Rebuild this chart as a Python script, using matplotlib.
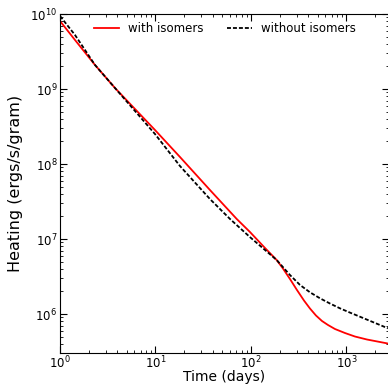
import numpy as np
import matplotlib
matplotlib.use('Agg')
import matplotlib.pyplot as plt

# values (time in days, heating in ergs/s/gram)
t_iso = [1, 1.436, 2.326, 3.766, 6.10, 9.88, 18.05, 37.2, 70.9, 97.6, 140.2,
         185.8, 216.3, 256.1, 303.1, 358.9, 414.8, 479.4, 554.0, 640.2,
         757.9, 964.5, 1227, 1640, 2720]
h_iso = [8.07e9, 4.50e9, 2.09e9, 1.031e9, 5.41e8, 2.84e8, 1.24e8, 4.50e7,
         1.85e7, 1.24e7, 7.59e6, 5.25e6, 4.04e6, 2.93e6, 2.09e6, 1.514e6,
         1.184e6, 9.55e5, 8.07e5, 7.14e5, 6.31e5, 5.58e5, 5.01e5, 4.57e5,
         4.04e5]

t_noiso = [1, 1.436, 2.326, 3.766, 6.10, 9.88, 18.05, 37.2, 60.3, 97.6, 140.2,
           185.8, 256.1, 326.1, 414.8, 527.9, 671.7, 855.0, 1088, 1385, 1941,
           2720]
h_noiso = [9.40e9, 5.25e9, 2.09e9, 1.031e9, 5.09e8, 2.51e8, 9.40e7, 3.41e7,
           1.85e7, 1.06e7, 7.14e6, 5.25e6, 3.31e6, 2.44e6, 1.947e6, 1.62e6,
           1.38e6, 1.19e6, 1.044e6, 9.20e5, 7.70e5, 6.45e5]

plt.rcParams['xtick.direction'] = 'in'
plt.rcParams['ytick.direction'] = 'in'
plt.rcParams['xtick.top'] = True
plt.rcParams['ytick.right'] = True
plt.rcParams['xtick.minor.visible'] = True
plt.rcParams['ytick.minor.visible'] = True

fig = plt.figure(figsize=(3.88, 3.86), dpi=100)
ax = fig.add_axes([60 / 388, 1 - 353 / 386, 329 / 388, 339 / 386])

ax.loglog(t_iso, h_iso, color='red', lw=1.3, label='with isomers')
ax.loglog(t_noiso, h_noiso, color='black', lw=1.3, ls=(0, (2.2, 1.1)),
          label='without isomers')

ax.set_xlim(1, 2790)
ax.set_ylim(3.02e5, 1e10)
ax.set_xlabel('Time (days)', fontsize=10)
ax.set_ylabel('Heating (ergs/s/gram)', fontsize=11.5)
ax.xaxis.set_label_coords(0.5, -0.049)
ax.yaxis.set_label_coords(-0.113, 0.5)
ax.tick_params(which='major', labelsize=8.5, length=5)
ax.tick_params(axis='x', which='major', pad=1)
ax.tick_params(axis='y', which='major', pad=2)
ax.tick_params(which='minor', length=2.5)

ax.legend(loc='center left', ncol=2, frameon=False, fontsize=8.5,
          handlelength=2.1, handletextpad=0.75, columnspacing=2.0,
          borderpad=0, borderaxespad=0, bbox_to_anchor=(0.104, 0.956))

fig.savefig('out.png', dpi=100, facecolor='white')
